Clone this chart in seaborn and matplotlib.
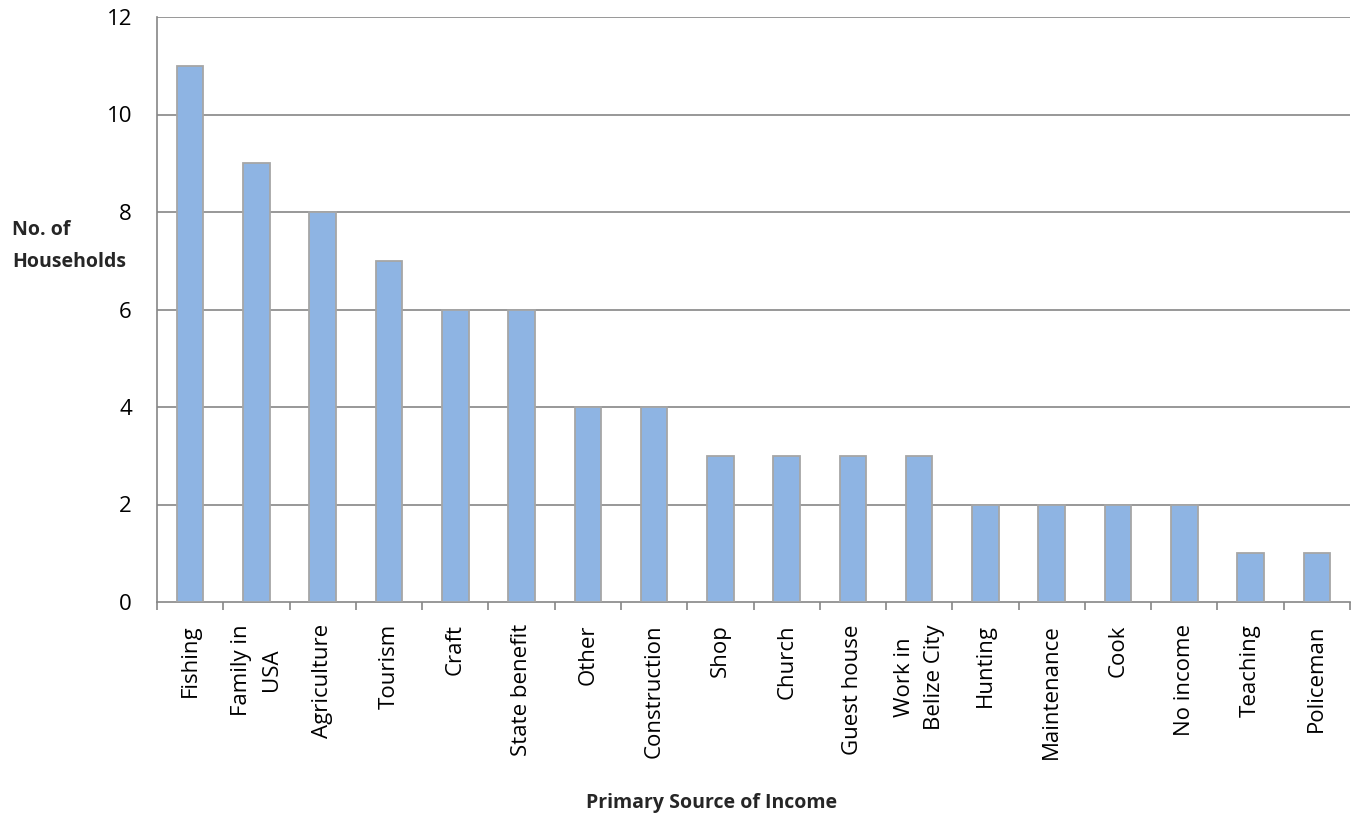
import matplotlib
matplotlib.use("Agg")
import matplotlib.pyplot as plt
import seaborn as sns
import pandas as pd
import numpy as np

categories = ["Fishing", "Family in\nUSA", "Agriculture", "Tourism", "Craft",
              "State benefit", "Other", "Construction", "Shop", "Church",
              "Guest house", "Work in\nBelize City", "Hunting", "Maintenance",
              "Cook", "No income", "Teaching", "Policeman"]
households = [11, 9, 8, 7, 6, 6, 4, 4, 3, 3, 3, 3, 2, 2, 2, 2, 1, 1]
y_ticks = [0, 2, 4, 6, 8, 10, 12]

sns.set_theme(style="white")
plt.rcParams["font.family"] = ["Open Sans", "DejaVu Sans"]

df = pd.DataFrame({"source": categories, "count": households})

fig = plt.figure(figsize=(13.56, 8.15), dpi=100)
ax = fig.add_axes([157 / 1356, 1 - 602 / 815, (1350 - 157) / 1356, (602 - 17) / 815])

grid_col = "#868686"
sns.barplot(data=df, x="source", y="count", color="#8EB4E3", width=0.4,
            edgecolor="#A6A6A6", linewidth=1.3, saturation=1, ax=ax, zorder=3)

ax.set_ylim(0, 12)
ax.set_xlim(-0.5, len(categories) - 0.5)
ax.set_yticks(y_ticks)
ax.set_yticklabels([str(t) for t in y_ticks], fontsize=16)
for t in y_ticks[1:]:
    ax.axhline(t, color=grid_col, linewidth=1.2, zorder=1)

# category labels centred under bars, tick marks on category boundaries
ax.set_xticks(np.arange(len(categories)))
ax.set_xticklabels(categories, rotation=90, fontsize=16, va="top", ha="center",
                   multialignment="center", linespacing=1.55)
ax.set_xticks(np.arange(-0.5, len(categories)), minor=True)
ax.tick_params(axis="x", which="major", length=0, pad=16)
ax.tick_params(axis="x", which="minor", length=6, width=1.2, direction="out")
ax.tick_params(axis="y", length=6, width=1.2, direction="out", pad=12)
ax.tick_params(axis="both", which="both", color=grid_col, labelcolor="black")
ax.xaxis.set_tick_params(which="minor", bottom=True)

for side in ["top", "right"]:
    ax.spines[side].set_visible(False)
for side in ["left", "bottom"]:
    ax.spines[side].set_color(grid_col)
    ax.spines[side].set_linewidth(1.2)

ax.set_xlabel("")
ax.set_ylabel("")
fig.text(712 / 1356, 1 - 808 / 815, "Primary Source of Income", ha="center",
         va="baseline", fontsize=14, fontweight="bold")
# two-line vertical axis title, one line per text
fig.text(12 / 1356, 1 - 235 / 815, "No. of", ha="left", va="baseline",
         fontsize=14, fontweight="bold")
fig.text(12 / 1356, 1 - 267 / 815, "Households", ha="left", va="baseline",
         fontsize=14, fontweight="bold")

fig.savefig("out.png", dpi=100)
